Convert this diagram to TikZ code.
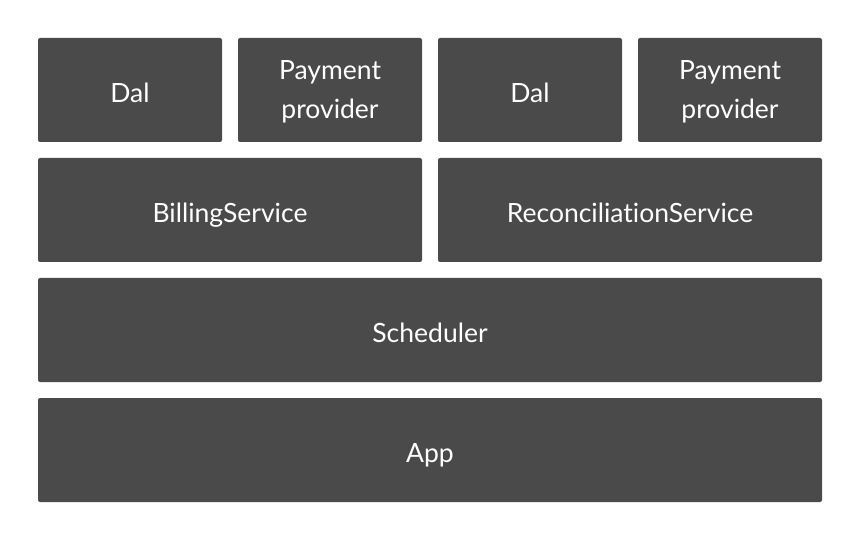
\documentclass[tikz,border=0pt]{standalone}
\usepackage{fontspec}
\setmainfont{Lato}[Ligatures={NoCommon}]
\definecolor{boxgray}{HTML}{4A4A4A}
\begin{document}
\begin{tikzpicture}[x=1pt,y=-1pt,
  blk/.style={fill=boxgray, draw=none, rounded corners=2pt},
  lbl/.style={text=white, font=\fontsize{26.5}{39}\selectfont, align=center,
    inner sep=0pt, anchor=base}]
\useasboundingbox (0,0) rectangle (860,540);
\newcommand{\blkbox}[7]{%
  \path[blk] (#2,#3) rectangle (#4,#5);
  \node[lbl] (#1) at ({(#2+#4)/2},{(#3+#5)/2+#7}) {#6};}
\blkbox{dalA}{38}{38}{222}{142}{Dal}{12.7}
\blkbox{payA}{238}{38}{422}{142}{Payment\\provider}{29}
\blkbox{dalB}{438}{38}{622}{142}{Dal}{12.7}
\blkbox{payB}{638}{38}{822}{142}{Payment\\provider}{29}
\blkbox{billing}{38}{158}{422}{262}{BillingService}{12.7}
\blkbox{recon}{438}{158}{822}{262}{ReconciliationService}{12.7}
\blkbox{sched}{38}{278}{822}{382}{Scheduler}{12.7}
\blkbox{app}{38}{398}{822}{502}{App}{12.7}
\end{tikzpicture}
\end{document}
